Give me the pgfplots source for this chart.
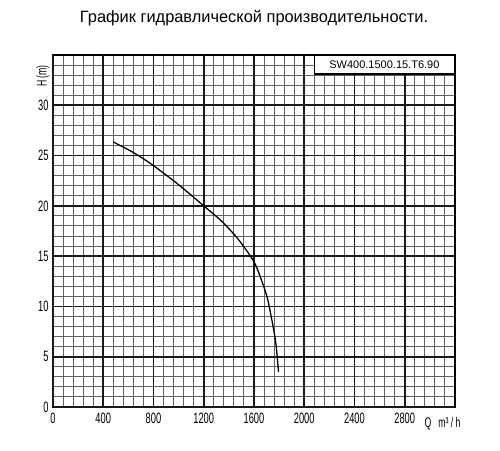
\documentclass[border=0pt]{standalone}
\usepackage{fontspec}
\setmainfont{Liberation Sans}
\newfontfamily\condfont[FakeStretch=0.62]{Liberation Sans}
\usepackage{pgfplots}
\pgfplotsset{compat=1.18}

\begin{document}
\begin{tikzpicture}
\begin{axis}[
    scale only axis,
    width=402pt, height=352pt,
    xmin=0, xmax=3200, ymin=0, ymax=35,
    clip=false,
    % fine grid (without the coarse lines, so they are not painted over)
    xtick={80,160,240,320, 480,560,640,720, 880,960,1040,1120,
           1280,1360,1440,1520, 1680,1760,1840,1920, 2080,2160,2240,2320,
           2480,2560,2640,2720, 2880,2960,3040,3120},
    ytick={1,2,3,4, 6,7,8,9, 11,12,13,14, 16,17,18,19, 21,22,23,24,
           26,27,28,29, 31,32,33,34},
    xticklabels={}, yticklabels={},
    grid=major,
    major grid style={black!62, line width=1pt},
    % coarse grid with labels
    extra x ticks={0,400,800,1200,1600,2000,2400,2800},
    extra x tick labels={0,400,800,1200,1600,2000,2400,2800},
    extra y ticks={0,5,10,15,20,25,30},
    extra y tick labels={0,5,10,15,20,25,30},
    extra tick style={major grid style={black!90, line width=1.8pt}},
    axis line style={black, line width=2pt},
    major tick length=0pt, minor tick length=0pt,
    tick label style={font=\condfont\fontsize{15}{15}\selectfont},
    xticklabel style={yshift=-2pt},
    yticklabel style={xshift=-1pt},
]
    % Q-H curve
    \addplot[black, line width=1.3pt, smooth] coordinates {
        (480,26.35) (640,25.3) (800,24.0) (1000,22.1) (1200,20.0)
        (1340,18.5) (1460,16.9) (1550,15.4) (1610,14.2) (1660,12.6)
        (1705,10.9) (1732,9.3) (1758,7.6) (1777,6.0) (1795,3.5)
    };

    \node[draw=black, fill=white, line width=1.2pt, anchor=north east,
          minimum width=140pt, minimum height=18.3pt, inner sep=0pt,
          font=\fontsize{11}{12}\selectfont]
        at (rel axis cs:1,1) {SW400.1500.15.T6.90};

    \node[rotate=90, font=\condfont\fontsize{14}{14}\selectfont]
        at ([xshift=-10pt]axis cs:0,32.9) {H (m)};
    \node[font=\condfont\fontsize{14}{14}\selectfont]
        at ([yshift=-17pt]axis cs:3100,0) {Q\enspace m³\,/\,h};
\end{axis}
\node[font=\fontsize{16.4}{18}\selectfont] at ([yshift=37pt]current axis.north)
    {График гидравлической производительности.};
\path[use as bounding box] ([xshift=-53pt,yshift=-43pt]current axis.south west)
    rectangle ([xshift=45pt,yshift=55pt]current axis.north east);
\end{tikzpicture}
\end{document}
